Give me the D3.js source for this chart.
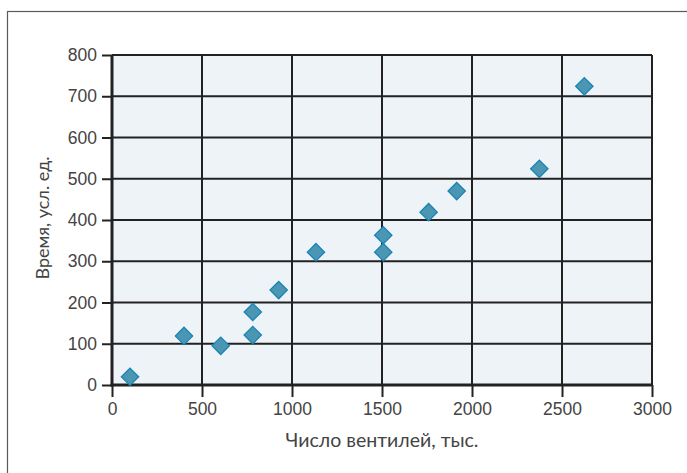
<!DOCTYPE html>
<html lang="ru">
<head>
    <meta charset="UTF-8">
    <title>Время от числа вентилей</title>
    <script src="https://d3js.org/d3.v7.min.js"></script>
    <style>
        body { margin: 0; background: #fff; }
        svg { display: block; font-family: "Lato", "Noto Sans", sans-serif; }
    </style>
</head>
<body>
<svg id="chart" width="687" height="473"></svg>
<script>
    // data
    const gates = [100, 400, 604, 782, 782, 926, 1133, 1507, 1507, 1759, 1915, 2374, 2624];
    const times = [20, 119, 95, 177, 121, 230, 322, 363, 322, 419, 470, 524, 724];
    const xTicks = [0, 500, 1000, 1500, 2000, 2500, 3000];
    const yTicks = [0, 100, 200, 300, 400, 500, 600, 700, 800];

    const svg = d3.select('#chart');
    const margin = { top: 55, right: 35, bottom: 88, left: 112 };
    const width = 687, height = 473;

    const x = d3.scaleLinear().domain([0, 3000]).range([margin.left, width - margin.right]);
    const y = d3.scaleLinear().domain([0, 800]).range([height - margin.bottom, margin.top]);

    // outer frame (runs off the right and bottom edges)
    svg.append('rect')
        .attr('x', 7.5).attr('y', 11.5)
        .attr('width', 700).attr('height', 480)
        .attr('fill', 'none')
        .attr('stroke', '#5a5a5a')
        .attr('stroke-width', 1.2);

    // plot background
    svg.append('rect')
        .attr('x', x(0)).attr('y', y(800))
        .attr('width', x(3000) - x(0))
        .attr('height', y(0) - y(800))
        .attr('fill', '#eef3f8');

    // grid
    svg.append('g')
        .selectAll('line')
        .data(yTicks.slice(1))
        .enter().append('line')
        .attr('x1', x(0)).attr('x2', x(3000))
        .attr('y1', d => y(d)).attr('y2', d => y(d))
        .attr('stroke', '#222').attr('stroke-width', 2);

    svg.append('g')
        .selectAll('line')
        .data(xTicks.slice(1))
        .enter().append('line')
        .attr('x1', d => x(d)).attr('x2', d => x(d))
        .attr('y1', y(0)).attr('y2', y(800))
        .attr('stroke', '#222').attr('stroke-width', 2);

    // axes
    const yAxis = svg.append('g')
        .attr('transform', `translate(${margin.left}, 0)`)
        .call(d3.axisLeft(y).tickValues(yTicks).tickSize(10).tickPadding(5));
    const xAxis = svg.append('g')
        .attr('transform', `translate(0, ${height - margin.bottom})`)
        .call(d3.axisBottom(x).tickValues(xTicks).tickSize(12).tickPadding(6).tickFormat(d3.format('d')));

    [xAxis, yAxis].forEach(g => {
        g.select('.domain').attr('stroke', '#222').attr('stroke-width', 3);
        g.selectAll('.tick line').attr('stroke', '#222').attr('stroke-width', 2);
        g.selectAll('.tick text')
            .attr('fill', '#444')
            .attr('font-size', '17.5px');
    });
    // plain lines for the axis domains
    yAxis.select('.domain').attr('d', `M0,${y(0) + 1.5}V${y(800)}`);
    xAxis.select('.domain').attr('d', `M${x(0) - 1.5},0H${x(3000)}`);

    // axis titles
    svg.append('text')
        .attr('transform', `translate(49, ${(y(0) + y(800)) / 2 - 2}) rotate(-90)`)
        .attr('text-anchor', 'middle')
        .attr('fill', '#444')
        .attr('font-size', '18px')
        .text('Время, усл. ед.');

    svg.append('text')
        .attr('x', (x(0) + x(3000)) / 2)
        .attr('y', 447)
        .attr('text-anchor', 'middle')
        .attr('fill', '#444')
        .attr('font-size', '19.5px')
        .text('Число вентилей, тыс.');

    // points (diamonds)
    const sym = d3.symbol().type(d3.symbolSquare).size(150);
    svg.append('g')
        .selectAll('path')
        .data(gates.map((g, i) => ({ g, t: times[i] })))
        .enter().append('path')
        .attr('d', sym)
        .attr('transform', d => `translate(${x(d.g)}, ${y(d.t)}) rotate(45)`)
        .attr('fill', '#4b96b3')
        .attr('stroke', '#1a85b5')
        .attr('stroke-width', 1.3);
</script>
</body>
</html>
